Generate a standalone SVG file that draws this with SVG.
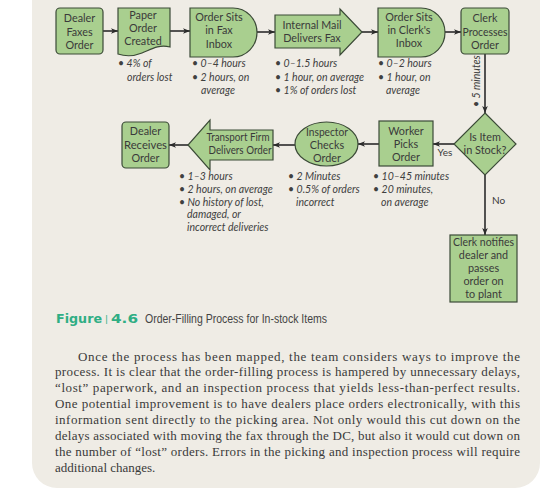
<svg xmlns="http://www.w3.org/2000/svg" width="554" height="503" viewBox="0 0 554 503">
<defs>
<marker id="ah" viewBox="0 0 10 10" refX="10" refY="5" markerWidth="7" markerHeight="7" markerUnits="userSpaceOnUse" orient="auto">
<path d="M0,1 L10,5 L0,9 L2.5,5 Z" fill="#2b2b2b"/>
</marker>
<style>
.n{fill:#a9cf8f;stroke:#3b4a37;stroke-width:1.2}
.t{font-family:Lato,"Open Sans",sans-serif;font-size:10.8px;fill:#3a3a3a;text-anchor:middle}
.a{font-family:Lato,"Open Sans",sans-serif;font-size:10.5px;font-style:italic;fill:#404040}
.c{fill:none;stroke:#2b2b2b;stroke-width:1.6;marker-end:url(#ah)}
.p{font-family:"Liberation Serif",serif;font-size:13px;fill:#3a3a3a}
</style>
</defs>
<rect x="0" y="0" width="554" height="503" fill="#ffffff"/>
<path d="M32,0 H540 V463 A25,25 0 0 1 515,488 H57 A25,25 0 0 1 32,463 Z" fill="#efece5"/>

<g id="connectors">
<path class="c" d="M103,31 H118"/>
<path class="c" d="M170,31 H190"/>
<path class="c" d="M257,32 H275"/>
<path class="c" d="M362,32 H378"/>
<path class="c" d="M445,32 H461"/>
<path class="c" d="M485,54 V113"/>
<path class="c" d="M454,144 H433"/>
<path class="c" d="M379,144 H358"/>
<path class="c" d="M295,145 H273"/>
<path class="c" d="M188,145 H169"/>
<path class="c" d="M485,175 V235"/>
<text x="445" y="156" font-family="Lato,'Open Sans',sans-serif" font-size="10" fill="#3a3a3a" text-anchor="middle">Yes</text>
<text x="492" y="204" font-family="Lato,'Open Sans',sans-serif" font-size="10" fill="#3a3a3a">No</text>
<text class="a" transform="translate(480,107) rotate(-90)">• 5 minutes</text>
</g>

<g id="n1">
<rect class="n" x="56" y="8" width="47" height="46" rx="4"/>
<text class="t" x="79.5" y="22">Dealer</text>
<text class="t" x="79.5" y="35.5">Faxes</text>
<text class="t" x="79.5" y="49">Order</text>
</g>
<g id="n2">
<path class="n" d="M118,8 H170 V47 C158,44 150,50 142,53 C132,57 124,56 118,54 Z"/>
<text class="t" x="143" y="19">Paper</text>
<text class="t" x="143" y="32">Order</text>
<text class="t" x="143" y="45">Created</text>
</g>
<g id="n3">
<path class="n" d="M190,8 H233 A24,24.5 0 0 1 233,57 H190 Z"/>
<text class="t" x="219" y="20.5">Order Sits</text>
<text class="t" x="219" y="34">in Fax</text>
<text class="t" x="219" y="47.5">Inbox</text>
</g>
<g id="n4">
<path class="n" d="M275,15 H340 V9 L362,32 L340,55 V48 H275 Z"/>
<text class="t" x="312" y="29" textLength="59" lengthAdjust="spacingAndGlyphs">Internal Mail</text>
<text class="t" x="312" y="42">Delivers Fax</text>
</g>
<g id="n5">
<path class="n" d="M378,8 H421 A24,24.5 0 0 1 421,57 H378 Z"/>
<text class="t" x="409" y="21">Order Sits</text>
<text class="t" x="409" y="34">in Clerk's</text>
<text class="t" x="409" y="47">Inbox</text>
</g>
<g id="n6">
<rect class="n" x="461" y="8" width="48" height="46" rx="4"/>
<text class="t" x="485" y="22">Clerk</text>
<text class="t" x="485" y="35.5" textLength="45" lengthAdjust="spacingAndGlyphs">Processes</text>
<text class="t" x="485" y="49">Order</text>
</g>
<g id="n7">
<polygon class="n" points="485,113 516,144 485,175 454,144"/>
<text class="t" x="485" y="141">Is Item</text>
<text class="t" x="485" y="154" textLength="43" lengthAdjust="spacingAndGlyphs">in Stock?</text>
</g>
<g id="n8">
<rect class="n" x="379" y="121" width="54" height="45"/>
<text class="t" x="406" y="135">Worker</text>
<text class="t" x="406" y="148">Picks</text>
<text class="t" x="406" y="161">Order</text>
</g>
<g id="n9">
<ellipse class="n" cx="326.5" cy="144" rx="31.5" ry="22"/>
<text class="t" x="327" y="136" textLength="42" lengthAdjust="spacingAndGlyphs">Inspector</text>
<text class="t" x="327" y="149">Checks</text>
<text class="t" x="327" y="162">Order</text>
</g>
<g id="n10">
<path class="n" d="M273,130 H210 V120 L188,145 L210,170 V160 H273 Z"/>
<text class="t" x="238" y="141" textLength="63" lengthAdjust="spacingAndGlyphs">Transport Firm</text>
<text class="t" x="240" y="154" textLength="63" lengthAdjust="spacingAndGlyphs">Delivers Order</text>
</g>
<g id="n11">
<rect class="n" x="122" y="122" width="47" height="46" rx="4"/>
<text class="t" x="145.5" y="135">Dealer</text>
<text class="t" x="145.5" y="148.5" textLength="43" lengthAdjust="spacingAndGlyphs">Receives</text>
<text class="t" x="145.5" y="162">Order</text>
</g>
<g id="n12">
<rect class="n" x="450" y="235" width="67" height="67"/>
<text class="t" x="483.5" y="246" textLength="61" lengthAdjust="spacingAndGlyphs">Clerk notifies</text>
<text class="t" x="483.5" y="259">dealer and</text>
<text class="t" x="483.5" y="272">passes</text>
<text class="t" x="483.5" y="285">order on</text>
<text class="t" x="483.5" y="298">to plant</text>
</g>

<g id="notes">
<text class="a" x="118" y="67">• 4% of</text>
<text class="a" x="127" y="80.5">orders lost</text>
<text class="a" x="192" y="67">• 0–4 hours</text>
<text class="a" x="192" y="80.5">• 2 hours, on</text>
<text class="a" x="201" y="94">average</text>
<text class="a" x="275" y="67">• 0–1.5 hours</text>
<text class="a" x="275" y="80.5">• 1 hour, on average</text>
<text class="a" x="275" y="94">• 1% of orders lost</text>
<text class="a" x="378" y="67">• 0–2 hours</text>
<text class="a" x="378" y="80.5">• 1 hour, on</text>
<text class="a" x="386" y="94">average</text>
<text class="a" x="179" y="180">• 1–3 hours</text>
<text class="a" x="179" y="193">• 2 hours, on average</text>
<text class="a" x="179" y="205.5">• No history of lost,</text>
<text class="a" x="187" y="218">damaged, or</text>
<text class="a" x="187" y="231">incorrect deliveries</text>
<text class="a" x="288" y="180">• 2 Minutes</text>
<text class="a" x="288" y="193">• 0.5% of orders</text>
<text class="a" x="296" y="205.5">incorrect</text>
<text class="a" x="373" y="180">• 10–45 minutes</text>
<text class="a" x="373" y="193">• 20 minutes,</text>
<text class="a" x="381" y="205.5">on average</text>
</g>

<g id="caption">
<text x="56" y="323" font-family="'DejaVu Sans',sans-serif" font-weight="bold" font-size="13" fill="#2fae84" textLength="46" lengthAdjust="spacingAndGlyphs">Figure</text>
<text x="105" y="322" font-family="'DejaVu Sans',sans-serif" font-size="9" fill="#2fae84">|</text>
<text x="111" y="323" font-family="'DejaVu Sans',sans-serif" font-weight="bold" font-size="13" fill="#2fae84" textLength="27" lengthAdjust="spacingAndGlyphs">4.6</text>
<text x="145" y="323" font-family="'Liberation Sans',sans-serif" font-size="12" fill="#444" textLength="182" lengthAdjust="spacingAndGlyphs">Order-Filling Process for In-stock Items</text>
</g>

<g id="body">
<text class="p" x="78" y="360.5" textLength="442">Once the process has been mapped, the team considers ways to improve the</text>
<text class="p" x="55" y="376.4" textLength="465">process. It is clear that the order-filling process is hampered by unnecessary delays,</text>
<text class="p" x="55" y="392.3" textLength="465">“lost” paperwork, and an inspection process that yields less-than-perfect results.</text>
<text class="p" x="55" y="408.2" textLength="465">One potential improvement is to have dealers place orders electronically, with this</text>
<text class="p" x="55" y="424.1" textLength="465">information sent directly to the picking area. Not only would this cut down on the</text>
<text class="p" x="55" y="440" textLength="465">delays associated with moving the fax through the DC, but also it would cut down on</text>
<text class="p" x="55" y="455.9" textLength="465">the number of “lost” orders. Errors in the picking and inspection process will require</text>
<text class="p" x="55" y="471.8">additional changes.</text>
</g>
</svg>
